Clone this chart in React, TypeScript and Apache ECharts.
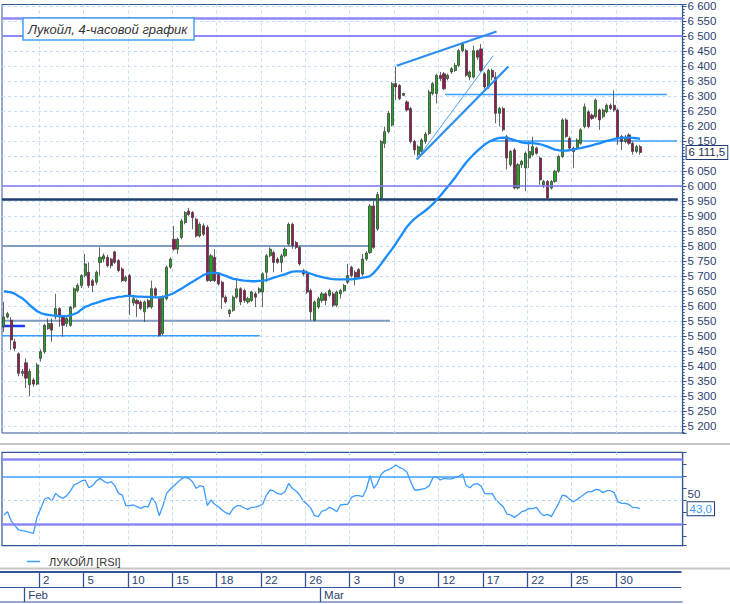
import React, { useEffect, useRef } from 'react';
import * as echarts from 'echarts';

// ---------- categories: 4-hour bars, trading days ----------
const tradingDays = [
  '28.01', '29.01', '01.02', '02.02', '03.02', '04.02', '05.02', '08.02', '09.02', '10.02',
  '11.02', '12.02', '15.02', '16.02', '17.02', '18.02', '19.02', '20.02', '22.02', '24.02',
  '25.02', '26.02', '01.03', '02.03', '03.03', '04.03', '05.03', '09.03', '10.03', '11.03',
  '12.03', '15.03', '16.03', '17.03', '18.03', '19.03', '22.03', '23.03', '24.03', '25.03',
  '26.03', '29.03', '30.03', '31.03', '01.04', '02.04', '05.04', '06.04',
];
const barHours = ['07:00', '11:00', '15:00', '19:00'];
const CATEGORY_COUNT = 184;
const dayTicks = ['02.02', '05.02', '10.02', '15.02', '18.02', '22.02', '26.02', '03.03', '09.03', '12.03', '17.03', '22.03', '25.03', '30.03'];
const monthStarts = ['01.02', '01.03'];
const monthNames = ['Feb', 'Mar'];

// ---------- price bars ----------
const openP = [
  5530, 5563, 5552, 5480, 5440, 5375, 5410, 5337, 5353, 5339,
  5425, 5447, 5524, 5541, 5563, 5591, 5563, 5541, 5535, 5596,
  5651, 5668, 5701, 5712, 5684, 5679, 5745, 5756, 5762, 5756,
  5780, 5751, 5723, 5684, 5701, 5610, 5618, 5613, 5580, 5618,
  5596, 5657, 5624, 5508, 5624, 5729, 5822, 5789, 5828, 5878,
  5916, 5911, 5889, 5833, 5867, 5862, 5684, 5762, 5706, 5679,
  5629, 5574, 5585, 5629, 5657, 5651, 5613, 5618, 5640, 5646,
  5646, 5712, 5767, 5778, 5756, 5745, 5767, 5806, 5872, 5811,
  5795, 5718, 5712, 5651, 5552, 5596, 5618, 5640, 5635, 5640,
  5602, 5640, 5651, 5679, 5729, 5712, 5721, 5706, 5756, 5778,
  5933, 5856, 5960, 6142, 6181, 6203, 6341, 6335, 6302, 6280,
  6258, 6148, 6104, 6115, 6148, 6175, 6308, 6308, 6369, 6374,
  6358, 6380, 6385, 6402, 6451, 6451, 6363, 6363, 6451, 6457,
  6374, 6330, 6385, 6363, 6242, 6258, 6164, 6071, 6120, 5993,
  6071, 6060, 6093, 6104, 6126, 6093, 6004, 6015, 5993, 6015,
  6049, 6098, 6220, 6159, 6126, 6126, 6142, 6198, 6247, 6236,
  6231, 6253, 6231, 6247, 6269, 6269, 6253, 6165, 6148, 6170,
  6142, 6115, 6131,
];
const closeP = [
  5563, 5574, 5486, 5458, 5375, 5381, 5359, 5381, 5339, 5403,
  5447, 5535, 5541, 5519, 5591, 5563, 5535, 5558, 5596, 5657,
  5668, 5701, 5740, 5668, 5668, 5712, 5762, 5767, 5734, 5734,
  5745, 5718, 5684, 5695, 5635, 5624, 5607, 5591, 5613, 5596,
  5657, 5635, 5502, 5629, 5729, 5756, 5789, 5822, 5883, 5911,
  5905, 5894, 5833, 5872, 5839, 5684, 5767, 5684, 5673, 5629,
  5613, 5585, 5629, 5657, 5613, 5618, 5624, 5646, 5629, 5657,
  5707, 5767, 5789, 5745, 5745, 5767, 5789, 5872, 5800, 5795,
  5740, 5706, 5646, 5580, 5613, 5624, 5640, 5618, 5651, 5602,
  5646, 5651, 5668, 5701, 5701, 5695, 5695, 5756, 5776, 5933,
  5795, 5971, 6148, 6181, 6242, 6341, 6330, 6291, 6308, 6253,
  6148, 6120, 6131, 6153, 6173, 6313, 6341, 6369, 6358, 6324,
  6369, 6391, 6402, 6451, 6473, 6369, 6380, 6451, 6429, 6385,
  6330, 6385, 6363, 6242, 6258, 6187, 6093, 6115, 5993, 6071,
  6082, 6109, 6115, 6131, 6109, 6020, 6015, 5960, 6015, 6049,
  6098, 6220, 6165, 6126, 6115, 6153, 6187, 6264, 6198, 6225,
  6286, 6220, 6253, 6269, 6258, 6253, 6159, 6148, 6159, 6142,
  6115, 6131, 6111.5,
];
const lowP = [
  5513, 5558, 5453, 5450, 5365, 5365, 5326, 5298, 5330, 5335,
  5414, 5440, 5520, 5480, 5555, 5530, 5497, 5530, 5530, 5590,
  5645, 5660, 5695, 5660, 5646, 5670, 5701, 5745, 5728, 5725,
  5740, 5712, 5679, 5679, 5569, 5600, 5563, 5585, 5546, 5590,
  5590, 5630, 5497, 5502, 5618, 5723, 5784, 5773, 5822, 5872,
  5900, 5856, 5828, 5828, 5833, 5680, 5680, 5679, 5668, 5590,
  5607, 5563, 5580, 5624, 5602, 5610, 5607, 5613, 5596, 5640,
  5596, 5680, 5762, 5712, 5740, 5712, 5762, 5800, 5790, 5789,
  5734, 5700, 5640, 5552, 5548, 5590, 5610, 5602, 5630, 5596,
  5596, 5624, 5646, 5673, 5695, 5668, 5690, 5700, 5750, 5773,
  5790, 5850, 5955, 6126, 6175, 6198, 6286, 6286, 6300, 6248,
  6142, 6104, 6098, 6104, 6140, 6170, 6302, 6275, 6350, 6319,
  6352, 6374, 6380, 6396, 6445, 6363, 6352, 6358, 6420, 6380,
  6324, 6324, 6352, 6209, 6198, 6181, 6054, 6065, 5988, 5988,
  6060, 5982, 6060, 6098, 6104, 6004, 5993, 5955, 5988, 6010,
  6043, 6093, 6160, 6120, 6060, 6120, 6137, 6192, 6192, 6220,
  6225, 6187, 6225, 6242, 6253, 6247, 6137, 6120, 6142, 6137,
  6104, 6109, 6104,
];
const highP = [
  5613, 5580, 5563, 5490, 5445, 5390, 5425, 5390, 5360, 5410,
  5455, 5540, 5558, 5558, 5640, 5595, 5570, 5565, 5600, 5662,
  5675, 5706, 5773, 5745, 5690, 5718, 5795, 5775, 5770, 5760,
  5784, 5756, 5729, 5701, 5706, 5630, 5624, 5618, 5618, 5624,
  5684, 5662, 5630, 5635, 5734, 5762, 5867, 5828, 5890, 5916,
  5927, 5916, 5894, 5878, 5875, 5870, 5773, 5789, 5712, 5684,
  5635, 5590, 5635, 5690, 5662, 5657, 5630, 5651, 5646, 5662,
  5712, 5773, 5795, 5784, 5762, 5773, 5795, 5878, 5878, 5817,
  5800, 5723, 5718, 5657, 5618, 5630, 5646, 5646, 5657, 5646,
  5651, 5657, 5673, 5740, 5734, 5718, 5726, 5773, 5782, 5940,
  5951, 5980, 6153, 6198, 6250, 6347, 6398, 6340, 6310, 6286,
  6264, 6153, 6137, 6159, 6180, 6320, 6347, 6374, 6380, 6380,
  6374, 6396, 6410, 6457, 6479, 6457, 6385, 6468, 6455, 6473,
  6380, 6391, 6391, 6380, 6264, 6264, 6170, 6120, 6126, 6076,
  6087, 6115, 6148, 6164, 6131, 6098, 6020, 6020, 6020, 6054,
  6104, 6226, 6226, 6165, 6131, 6159, 6192, 6275, 6253, 6242,
  6292, 6258, 6258, 6275, 6275, 6319, 6258, 6170, 6170, 6176,
  6148, 6137, 6137,
];

// ---------- moving average ----------
const maValues = [
  5648, 5647, 5645, 5640, 5632, 5625, 5615, 5602, 5592, 5582,
  5576, 5572, 5570, 5568, 5567, 5566, 5566, 5566, 5568, 5573,
  5578, 5588, 5597, 5601, 5607, 5610, 5614, 5618, 5622, 5625,
  5627, 5630, 5631, 5633, 5633, 5632, 5631, 5631, 5630, 5630,
  5629, 5628, 5628, 5630, 5633, 5638, 5643, 5650, 5657, 5665,
  5673, 5680, 5688, 5695, 5703, 5708, 5710, 5710, 5709, 5704,
  5700, 5695, 5690, 5688, 5686, 5684, 5683, 5682, 5682, 5683,
  5684, 5686, 5690, 5694, 5698, 5702, 5705, 5710, 5714, 5715,
  5715, 5714, 5711, 5707, 5703, 5699, 5696, 5693, 5691, 5689,
  5688, 5688, 5688, 5688, 5688, 5690, 5692, 5694, 5696, 5699,
  5710, 5724, 5740, 5757, 5774, 5790, 5808, 5827, 5846, 5864,
  5878, 5890, 5900, 5909, 5918, 5928, 5940, 5954, 5967, 5982,
  5997, 6012, 6028, 6045, 6062, 6078, 6092, 6105, 6117, 6128,
  6138, 6146, 6152, 6157, 6160, 6161, 6160, 6157, 6153, 6149,
  6145, 6143, 6143, 6143, 6141, 6139, 6135, 6131, 6126, 6121,
  6119, 6118, 6118, 6119, 6121, 6124, 6126, 6129, 6132, 6135,
  6139, 6142, 6146, 6150, 6153, 6156, 6159, 6160, 6161, 6161,
  6160, 6159, 6157,
];

// ---------- RSI ----------
const rsiValues = [
  37.8, 40.5, 32.8, 28.9, 25.3, 24.7, 24.2, 23.3, 22.5, 36.4,
  43.3, 51.1, 52.2, 49.4, 55.8, 53.0, 51.7, 53.9, 57.8, 62.8,
  64.2, 66.1, 66.9, 60.5, 62.2, 66.1, 68.3, 66.1, 64.2, 65.5,
  62.2, 55.8, 54.4, 45.5, 45.5, 46.1, 44.7, 43.3, 45.0, 44.4,
  52.2, 48.3, 37.2, 45.5, 55.8, 59.4, 62.2, 65.0, 67.8, 69.2,
  68.3, 65.5, 60.0, 62.2, 61.4, 45.5, 50.3, 46.7, 44.7, 41.9,
  39.7, 38.3, 43.3, 45.5, 45.5, 43.6, 42.5, 44.2, 44.4, 45.3,
  46.9, 54.4, 58.6, 57.8, 55.5, 55.0, 57.2, 64.0, 60.0, 57.8,
  54.4, 49.4, 46.7, 43.3, 37.2, 36.4, 41.1, 41.9, 44.2, 42.8,
  40.5, 46.1, 46.7, 46.7, 52.5, 53.9, 53.9, 53.0, 59.2, 70.5,
  60.0, 64.2, 71.7, 74.4, 75.5, 77.2, 79.4, 77.2, 76.1, 73.3,
  65.5, 58.6, 58.6, 59.4, 60.0, 62.2, 68.9, 69.7, 66.9, 68.3,
  67.8, 67.8, 68.9, 70.0, 71.9, 62.2, 60.5, 63.3, 63.9, 61.9,
  55.8, 55.3, 55.8, 50.8, 47.5, 44.7, 38.6, 37.8, 35.8, 37.8,
  40.5, 41.4, 43.3, 43.0, 44.1, 39.7, 37.2, 38.3, 36.4, 41.9,
  47.5, 54.4, 53.6, 50.8, 48.9, 50.8, 53.0, 55.3, 57.2, 57.2,
  59.1, 58.6, 56.4, 58.0, 58.0, 56.4, 48.9, 47.5, 47.5, 46.6,
  44.1, 43.9, 43.0,
];

// ---------- drawn levels / trend lines (bar-index units, prices) ----------
const fullLevels = [6560, 6500, 6000];
const partLevels = [6305, 6150, 5955, 5800, 5550, 5500, 5533];
const partFrom = [119.8, 131.9, 0, 0, 0, 0, 0];
const partTo = [179.8, 182.5, 182.7, 100.8, 104.9, 69.7, 6.2];
const trendFrom = [[106.7, 6401], [112.1, 6088], [112.2, 6090]];
const trendTo = [[133.7, 6515], [136.9, 6398], [132.8, 6434]];
const rsiLevels = [84, 70, 50, 30];

// ---------- styles ----------
const FONT = '"Liberation Sans", Arial, sans-serif';
const NAVY = '#2f5597';
const TXT = '#2c4372';
const GRIDC = '#c4ddf6';
const fullLevelStyles = [
  { color: '#8c89f5', width: 2.5 },
  { color: '#8c89f5', width: 2 },
  { color: '#7d79f2', width: 1.6 },
];
const partStyles = [
  { color: '#3aa0ff', width: 1.5 },
  { color: '#3aa0ff', width: 1.5 },
  { color: '#1d3f6e', width: 2.5 },
  { color: '#7f9cbf', width: 2 },
  { color: '#7f9cbf', width: 2 },
  { color: '#3aa0ff', width: 1.5 },
  { color: '#1b38ff', width: 2.5 },
];
const trendStyles = [
  { color: '#2c8ef0', width: 2.2 },
  { color: '#2c8ef0', width: 2.2 },
  { color: '#4aa2f5', width: 1 },
];
const rsiLevelStyles = [
  { color: '#8a88f5', width: 2.5, type: 'solid' },
  { color: '#3aa0ff', width: 1.5, type: 'solid' },
  { color: '#b4d4f4', width: 1, type: [3, 3] },
  { color: '#8a88f5', width: 2.5, type: 'solid' },
];

const categories: string[] = [];
tradingDays.forEach((d, i) => {
  (i === 0 ? barHours.slice(2) : barHours).forEach((h) => categories.push(d + ' ' + h));
});
categories.length = CATEGORY_COUNT;

const isDayTick = (idx: number) => {
  const c = categories[idx];
  return !!c && c.endsWith(barHours[0]) && dayTicks.includes(c.slice(0, 5));
};
const isMonthTick = (idx: number) => {
  const c = categories[idx];
  return !!c && c.endsWith(barHours[0]) && monthStarts.includes(c.slice(0, 5));
};
const thousands = (v: number) => String(Math.round(v)).replace(/\B(?=(\d{3})+(?!\d))/g, ' ');
const fmtDec = (v: number) => {
  const [i, d] = v.toFixed(1).split('.');
  return thousands(Number(i)) + ',' + d;
};

export default function App() {
  const ref = useRef<HTMLDivElement>(null);
  useEffect(() => {
    document.body.style.margin = '0';
    if (!ref.current) return;
    const chart = echarts.init(ref.current, undefined, { renderer: 'svg' });
    const candleData = openP.map((o, i) => [o, closeP[i], lowP[i], highP[i]]);
    const lastPrice = closeP[closeP.length - 1];
    const lastRsi = rsiValues[rsiValues.length - 1];

    const PLOT_L = 2;
    const PLOT_R = 47.4;
    const band = (730 - PLOT_L - PLOT_R) / CATEGORY_COUNT;
    const gridBase = { left: PLOT_L, right: PLOT_R };
    // date rows: shifted by half a band so that centred ticks fall on bar boundaries
    const dateGrid = { left: PLOT_L - band / 2, right: PLOT_R + band / 2 };

    const catAxis = (gridIndex: number, extra: any = {}) => ({
      type: 'category',
      gridIndex,
      data: categories,
      boundaryGap: true,
      axisLine: { show: false, onZero: false },
      axisTick: { show: false },
      axisLabel: { show: false },
      splitLine: { show: false },
      ...extra,
    });
    const dateAxis = (gridIndex: number, tickFn: (i: number) => boolean, fmt: (v: string) => string, lineW: number) =>
      catAxis(gridIndex, {
        position: 'top',
        axisLine: { show: true, onZero: false, lineStyle: { color: NAVY, width: lineW } },
        axisTick: { show: true, inside: true, alignWithLabel: true, length: 15, interval: tickFn, lineStyle: { color: NAVY, width: 1.3 } },
        axisLabel: {
          show: true,
          inside: true,
          interval: tickFn,
          align: 'left',
          margin: 2,
          padding: [0, 0, 0, 4],
          color: TXT,
          fontSize: 11.5,
          fontFamily: FONT,
          formatter: fmt,
        },
      });

    const levelSeries = partLevels.map((v, i) => ({
      type: 'line',
      xAxisIndex: 1,
      yAxisIndex: 0,
      data: [[partFrom[i], v], [partTo[i], v]],
      symbol: 'none',
      silent: true,
      lineStyle: partStyles[i],
      z: 2,
    }));
    const trendSeries = trendFrom.map((p, i) => ({
      type: 'line',
      xAxisIndex: 1,
      yAxisIndex: 0,
      data: [p, trendTo[i]],
      symbol: 'none',
      silent: true,
      lineStyle: trendStyles[i],
      z: 5,
    }));

    const hiddenLine = { color: 'rgba(0,0,0,0)', width: 0 };
    const boxLabel = (text: string, color: string, distance: number) => ({
      show: true,
      position: 'end',
      distance,
      formatter: text,
      color,
      fontSize: 11.5,
      fontFamily: FONT,
      backgroundColor: '#ffffff',
      borderColor: '#1f3d73',
      borderWidth: 1,
      padding: [1, 2, 0, 2],
    });

    const option: any = {
      animation: false,
      backgroundColor: '#ffffff',
      title: {
        text: 'Лукойл, 4-часовой график',
        left: 23,
        top: 18,
        padding: [5, 7, 4, 5],
        backgroundColor: '#ffffff',
        borderColor: '#45a0f2',
        borderWidth: 1.5,
        textStyle: { fontFamily: FONT, fontStyle: 'italic', fontWeight: 'normal', fontSize: 13, color: '#333333' },
      },
      legend: {
        data: ['ЛУКОЙЛ [RSI]'],
        left: 22,
        top: 551,
        icon: 'rect',
        itemWidth: 13,
        itemHeight: 1.5,
        selectedMode: false,
        textStyle: { fontFamily: FONT, fontSize: 11, color: '#333333', padding: [0, 0, 0, 4] },
      },
      graphic: [
        { type: 'rect', shape: { x: 0, y: 443, width: 730, height: 2 }, style: { fill: '#c6c6c6' }, silent: true },
        { type: 'rect', shape: { x: 0, y: 567.5, width: 730, height: 2 }, style: { fill: '#c6c6c6' }, silent: true },
        { type: 'line', shape: { x1: 0, y1: 602, x2: 682.6, y2: 602 }, style: { stroke: NAVY, lineWidth: 1.2 }, silent: true },
      ],
      grid: [
        { ...gridBase, top: 0, height: 433, show: true, borderColor: NAVY, borderWidth: 1 },
        { ...gridBase, top: 452.3, height: 93.4, show: true, borderColor: NAVY, borderWidth: 1.2 },
        { ...dateGrid, top: 572, height: 15 },
        { ...dateGrid, top: 587, height: 15 },
      ],
      xAxis: [
        catAxis(0, { splitLine: { show: true, interval: isDayTick, lineStyle: { color: GRIDC, type: [3, 3], width: 1 } } }),
        { type: 'value', gridIndex: 0, min: 0, max: CATEGORY_COUNT, show: false },
        catAxis(1, { splitLine: { show: true, interval: isDayTick, lineStyle: { color: GRIDC, type: [3, 3], width: 1 } } }),
        dateAxis(2, isDayTick, (val: string) => String(parseInt(val.slice(0, 2), 10)), 2),
        dateAxis(3, isMonthTick, (val: string) => monthNames[monthStarts.indexOf(val.slice(0, 5))] || '', 1),
      ],
      yAxis: [
        {
          type: 'value',
          gridIndex: 0,
          position: 'right',
          min: 5176,
          max: 6605,
          splitNumber: 28,
          minInterval: 50,
          maxInterval: 50,
          axisLine: { show: true, onZero: false, lineStyle: { color: NAVY, width: 1.2 } },
          axisTick: { show: true, length: 4, lineStyle: { color: NAVY } },
          minorTick: { show: true, splitNumber: 5, length: 2, lineStyle: { color: NAVY } },
          axisLabel: {
            color: TXT,
            fontSize: 11.5,
            fontFamily: FONT,
            margin: 5,
            // the label under the last-price box is covered, as in the original terminal
            formatter: (v: number) => (Math.abs(v % 50) < 1e-6 && Math.abs(v - lastPrice) > 25 ? thousands(v) : ''),
          },
          splitLine: { show: true, showMinLine: false, showMaxLine: false, lineStyle: { color: GRIDC, type: [3, 3] } },
        },
        {
          type: 'value',
          gridIndex: 1,
          position: 'right',
          min: 12.2,
          max: 90,
          splitNumber: 8,
          minInterval: 10,
          maxInterval: 10,
          axisLine: { show: true, onZero: false, lineStyle: { color: NAVY, width: 1.2 } },
          axisTick: { show: true, length: 4, lineStyle: { color: NAVY } },
          axisLabel: {
            color: TXT,
            fontSize: 11.5,
            fontFamily: FONT,
            margin: 5,
            verticalAlign: 'bottom',
            lineHeight: 12,
            formatter: (v: number) => (v === 50 ? '50' : ''),
          },
          splitLine: { show: false },
        },
        { type: 'value', gridIndex: 2, min: 0, max: 1, show: false },
        { type: 'value', gridIndex: 3, min: 0, max: 1, show: false },
      ],
      series: [
        ...levelSeries,
        {
          type: 'candlestick',
          name: 'ЛУКОЙЛ',
          xAxisIndex: 0,
          yAxisIndex: 0,
          data: candleData,
          barWidth: 2.6,
          itemStyle: {
            color: '#1ea81e',
            color0: '#a3124f',
            borderColor: '#404040',
            borderColor0: '#404040',
            borderWidth: 0.8,
          },
          z: 3,
          markLine: {
            silent: true,
            symbol: ['none', 'none'],
            label: { show: false },
            data: [
              ...fullLevels.map((v, i) => ({ yAxis: v, lineStyle: { ...fullLevelStyles[i], type: 'solid' } })),
              { yAxis: lastPrice, lineStyle: hiddenLine, label: boxLabel(fmtDec(lastPrice), '#1f2f50', 4) },
            ],
          },
        },
        {
          type: 'line',
          name: 'MA',
          xAxisIndex: 0,
          yAxisIndex: 0,
          data: maValues,
          symbol: 'none',
          silent: true,
          color: '#1a8cff',
          lineStyle: { color: '#1a8cff', width: 2.3 },
          z: 4,
        },
        ...trendSeries,
        {
          type: 'line',
          name: 'ЛУКОЙЛ [RSI]',
          xAxisIndex: 2,
          yAxisIndex: 1,
          data: rsiValues,
          symbol: 'none',
          silent: true,
          color: '#3d9bff',
          lineStyle: { color: '#3d9bff', width: 1.3 },
          markLine: {
            silent: true,
            symbol: ['none', 'none'],
            label: { show: false },
            data: [
              ...rsiLevels.map((v, i) => ({ yAxis: v, lineStyle: rsiLevelStyles[i] })),
              { yAxis: lastRsi, lineStyle: hiddenLine, label: boxLabel(fmtDec(lastRsi), '#3d9bff', 5) },
            ],
          },
        },
      ],
    };
    chart.setOption(option);
    return () => chart.dispose();
  }, []);
  return <div ref={ref} style={{ width: 730, height: 604 }} />;
}
